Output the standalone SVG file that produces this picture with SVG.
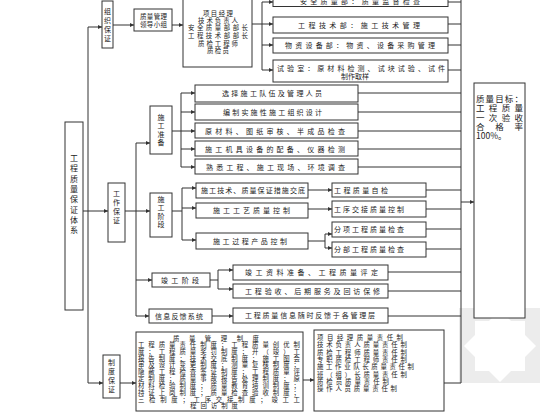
<svg xmlns="http://www.w3.org/2000/svg" width="560" height="420" viewBox="0 0 560 420">
<style>
.b{fill:#fff;stroke:#333;stroke-width:1}
.c{fill:none;stroke:#333;stroke-width:1}
.t{font-family:"Noto Sans CJK SC","Noto Sans",sans-serif;font-size:7px;fill:#222}
.v{text-anchor:middle;font-size:7px}
.m{text-anchor:middle;font-size:6.6px}
.p{font-size:6.4px}
.g{font-size:8.5px}
</style>
<defs>
<marker id="a" viewBox="0 0 6 6" refX="6" refY="3" markerWidth="4" markerHeight="4" orient="auto" markerUnits="userSpaceOnUse"><path d="M0,0L6,3L0,6z" fill="#333"/></marker>
</defs>
<rect width="560" height="420" fill="#fff"/>
<g id="watermark">
<rect x="459" y="308" width="81" height="75" fill="#ececec"/>
<polygon points="500,310 536,346 500,382 464,346" fill="#fff"/>
<rect x="475" y="321" width="50" height="50" fill="#fff"/>
</g>
<g id="connectors">
<path class="c" d="M83,211H88M88,27V383"/>
<path class="c" marker-end="url(#a)" d="M88,27H102"/>
<path class="c" marker-end="url(#a)" d="M88,211H108"/>
<path class="c" marker-end="url(#a)" d="M88,383H103"/>
<path class="c" marker-end="url(#a)" d="M113,25H134"/>
<path class="c" marker-end="url(#a)" d="M172,25H183"/>
<path class="c" d="M252,24H262M262,2V70"/>
<path class="c" marker-end="url(#a)" d="M262,2H273"/>
<path class="c" marker-end="url(#a)" d="M262,24H273"/>
<path class="c" marker-end="url(#a)" d="M262,45H273"/>
<path class="c" marker-end="url(#a)" d="M262,70H273"/>
<path class="c" d="M461,0V383M448,2H461M448,24H461M448,45H461M448,70H461M358,93H461M358,112H461M358,131H461M358,149H461M358,167H461M426,190H461M426,209H461M426,229H461M426,249H461M388,272H461M388,291H461M388,316H461M444,383H461"/>
<path class="c" marker-end="url(#a)" d="M461,202H474"/>
<path class="c" d="M125,211H136M136,143V316"/>
<path class="c" marker-end="url(#a)" d="M136,143H150"/>
<path class="c" marker-end="url(#a)" d="M136,211H150"/>
<path class="c" marker-end="url(#a)" d="M136,280H152"/>
<path class="c" marker-end="url(#a)" d="M136,316H149"/>
<path class="c" d="M172,131H181M181,93V167"/>
<path class="c" marker-end="url(#a)" d="M181,93H195"/>
<path class="c" marker-end="url(#a)" d="M181,112H195"/>
<path class="c" marker-end="url(#a)" d="M181,131H195"/>
<path class="c" marker-end="url(#a)" d="M181,149H195"/>
<path class="c" marker-end="url(#a)" d="M181,167H195"/>
<path class="c" d="M172,211H182M182,188V240"/>
<path class="c" marker-end="url(#a)" d="M182,188H196"/>
<path class="c" marker-end="url(#a)" d="M182,208H196"/>
<path class="c" marker-end="url(#a)" d="M182,240H196"/>
<path class="c" marker-end="url(#a)" d="M308,190H332"/>
<path class="c" marker-end="url(#a)" d="M308,209H332"/>
<path class="c" d="M308,241H325M325,234V248"/>
<path class="c" marker-end="url(#a)" d="M325,234H332"/>
<path class="c" marker-end="url(#a)" d="M325,248H332"/>
<path class="c" d="M210,280H218M218,270V289"/>
<path class="c" marker-end="url(#a)" d="M218,270H233"/>
<path class="c" marker-end="url(#a)" d="M218,289H233"/>
<path class="c" marker-end="url(#a)" d="M212,316H233"/>
<path class="c" marker-end="url(#a)" d="M120,383H136"/>
<path class="c" marker-end="url(#a)" d="M303,380H314"/>
</g>
<g id="n-main"><rect class="b" x="65" y="122" width="18" height="188"/>
<text class="t v" style="font-size:8px" x="74" y="161">工</text><text class="t v" style="font-size:8px" x="74" y="171.3">程</text><text class="t v" style="font-size:8px" x="74" y="181.6">质</text><text class="t v" style="font-size:8px" x="74" y="191.9">量</text><text class="t v" style="font-size:8px" x="74" y="202.2">保</text><text class="t v" style="font-size:8px" x="74" y="212.5">证</text><text class="t v" style="font-size:8px" x="74" y="222.8">体</text><text class="t v" style="font-size:8px" x="74" y="233.1">系</text></g>
<g id="n-org"><rect class="b" x="102" y="1" width="11" height="47"/>
<text class="t v" x="107.5" y="13.6">组</text><text class="t v" x="107.5" y="22.6">织</text><text class="t v" x="107.5" y="31.6">保</text><text class="t v" x="107.5" y="40.6">证</text></g>
<g id="n-group"><rect class="b" x="134" y="9" width="38" height="22"/>
<text class="t" x="140" y="18.5" textLength="27" lengthAdjust="spacing" style="font-size:6.5px">质量管理</text><text class="t" x="140" y="26.5" textLength="27" lengthAdjust="spacing" style="font-size:6.5px">领导小组</text></g>
<g id="n-members"><rect class="b" x="183" y="-2" width="69" height="69"/>
<text class="t" x="203" y="15.5" textLength="30" lengthAdjust="spacing" style="font-size:6.4px">项目经理</text>
<text class="t" x="198" y="22.7" textLength="40" lengthAdjust="spacing" style="font-size:6.4px">技术负责人</text>
<text class="t" x="188" y="29.9" textLength="60" lengthAdjust="spacing" style="font-size:6.4px">安全质量部部长</text>
<text class="t" x="188" y="37.6" textLength="60" lengthAdjust="spacing" style="font-size:6.4px">工程技术部部长</text>
<text class="t" x="198" y="45.6" textLength="40" lengthAdjust="spacing" style="font-size:6.4px">质检工程师</text>
<text class="t" x="207" y="53" textLength="22" lengthAdjust="spacing" style="font-size:6.4px">质检员</text></g>
<g id="n-o1"><rect class="b" x="273" y="-10" width="175" height="16.5"/><text class="t" x="300" y="3.5" textLength="120" lengthAdjust="spacing">安全质量部：质量监督检查</text></g>
<g id="n-o2"><rect class="b" x="273" y="17" width="175" height="16"/><text class="t" x="298" y="27.5" textLength="122" lengthAdjust="spacing">工程技术部：施工技术管理</text></g>
<g id="n-o3"><rect class="b" x="273" y="38" width="175" height="15"/><text class="t" x="285" y="48" textLength="150" lengthAdjust="spacing">物资设备部：物资、设备采购管理</text></g>
<g id="n-o4"><rect class="b" x="273" y="60" width="175" height="22"/><text class="t" x="277" y="70.5" textLength="168" lengthAdjust="spacing">试验室：原材料检测、试块试验、试件</text><text class="t" x="341" y="78.5" textLength="28" lengthAdjust="spacing">制作取样</text></g>
<g id="n-work"><rect class="b" x="108" y="183" width="17" height="59"/>
<text class="t v" x="116.5" y="196">工</text><text class="t v" x="116.5" y="205">作</text><text class="t v" x="116.5" y="214">保</text><text class="t v" x="116.5" y="223">证</text></g>
<g id="n-prep"><rect class="b" x="150" y="106" width="22" height="48"/>
<text class="t v" x="161" y="119.6">施</text><text class="t v" x="161" y="128.1">工</text><text class="t v" x="161" y="136.6">准</text><text class="t v" x="161" y="145.1">备</text></g>
<g id="n-stage"><rect class="b" x="150" y="193" width="22" height="44"/>
<text class="t v" x="161" y="201.6">施</text><text class="t v" x="161" y="210.1">工</text><text class="t v" x="161" y="218.6">阶</text><text class="t v" x="161" y="227.1">段</text></g>
<g id="n-p1"><rect class="b" x="195" y="85" width="163" height="17"/><text class="t" x="222" y="96" textLength="100" lengthAdjust="spacing">选择施工队伍及管理人员</text></g>
<g id="n-p2"><rect class="b" x="195" y="104" width="163" height="16"/><text class="t" x="223" y="114.8" textLength="99" lengthAdjust="spacing">编制实施性施工组织设计</text></g>
<g id="n-p3"><rect class="b" x="195" y="123" width="163" height="15"/><text class="t" x="205" y="133.6" textLength="140" lengthAdjust="spacing">原材料、图纸审核、半成品检查</text></g>
<g id="n-p4"><rect class="b" x="195" y="141" width="163" height="15"/><text class="t" x="205" y="151.6" textLength="140" lengthAdjust="spacing">施工机具设备的配备、仪器检测</text></g>
<g id="n-p5"><rect class="b" x="195" y="159" width="163" height="15"/><text class="t" x="206" y="169.6" textLength="139" lengthAdjust="spacing">熟悉工程、施工现场、环境调查</text></g>
<g id="n-s1"><rect class="b" x="196" y="183" width="112" height="15"/><text class="t" x="201" y="193" textLength="104" lengthAdjust="spacing">施工技术、质量保证措施交底</text></g>
<g id="n-s2"><rect class="b" x="196" y="203" width="112" height="15"/><text class="t" x="213" y="213.3" textLength="77" lengthAdjust="spacing">施工工艺质量控制</text></g>
<g id="n-s3"><rect class="b" x="196" y="233" width="112" height="16"/><text class="t" x="213" y="244" textLength="74" lengthAdjust="spacing">施工过程产品控制</text></g>
<g id="n-q1"><rect class="b" x="332" y="183" width="94" height="14"/><text class="t" x="334" y="192.6" textLength="54" lengthAdjust="spacing">工程质量自检</text></g>
<g id="n-q2"><rect class="b" x="332" y="201" width="94" height="16"/><text class="t" x="334" y="211.8" textLength="70" lengthAdjust="spacing">工序交接质量控制</text></g>
<g id="n-q3"><rect class="b" x="332" y="222" width="94" height="15"/><text class="t" x="334" y="232.2" textLength="70" lengthAdjust="spacing">分项工程质量检查</text></g>
<g id="n-q4"><rect class="b" x="332" y="242" width="94" height="15"/><text class="t" x="334" y="252.2" textLength="70" lengthAdjust="spacing">分部工程质量检查</text></g>
<g id="n-fin"><rect class="b" x="152" y="273" width="58" height="14"/><text class="t" x="161" y="282.5" textLength="38" lengthAdjust="spacing">竣工阶段</text></g>
<g id="n-info"><rect class="b" x="149" y="309" width="63" height="14"/><text class="t" x="155" y="318.5" textLength="48" lengthAdjust="spacing">信息反馈系统</text></g>
<g id="n-f1"><rect class="b" x="233" y="265" width="155" height="15"/><text class="t" x="245" y="275" textLength="133" lengthAdjust="spacing">竣工资料准备、工程质量评定</text></g>
<g id="n-f2"><rect class="b" x="233" y="284" width="155" height="14"/><text class="t" x="245" y="293.5" textLength="135" lengthAdjust="spacing">工程验收、后期服务及回访保修</text></g>
<g id="n-i1"><rect class="b" x="233" y="308" width="155" height="15"/><text class="t" x="245" y="318.3" textLength="130" lengthAdjust="spacing">工程质量信息随时反馈于各管理层</text></g>
<g id="n-sys"><rect class="b" x="103" y="355" width="17" height="43"/>
<text class="t v" x="111.5" y="364.6">制</text><text class="t v" x="111.5" y="373.6">度</text><text class="t v" x="111.5" y="382.6">保</text><text class="t v" x="111.5" y="391.6">证</text></g>
<g id="n-rules"><rect class="b" x="136" y="332" width="167" height="79"/>
<text class="t p" x="173" y="340.5" textLength="86" lengthAdjust="spacing">质量管理制度</text>
<text class="t p" x="138" y="347.3" textLength="162" lengthAdjust="spacing">工程质量责任制度；工程质量创优制</text>
<text class="t p" x="138" y="354" textLength="162" lengthAdjust="spacing">度；工程质量奖罚制度；开（竣）工</text>
<text class="t p" x="138" y="360.7" textLength="162" lengthAdjust="spacing">报告制度；技术交底制度；施工图会</text>
<text class="t p" x="138" y="367.4" textLength="162" lengthAdjust="spacing">审及设计变更制度；测量复核制度；</text>
<text class="t p" x="138" y="374.1" textLength="162" lengthAdjust="spacing">隐蔽工程检查签证制度；工程质量评</text>
<text class="t p" x="138" y="380.8" textLength="162" lengthAdjust="spacing">定制度；质量事故报告处理制度；原</text>
<text class="t p" x="138" y="388.3" textLength="162" lengthAdjust="spacing">材料检验制度；质量教育培训制度；</text>
<text class="t p" x="138" y="395" textLength="162" lengthAdjust="spacing">持证上岗制度；质量检查验收制度；</text>
<text class="t p" x="138" y="401.7" textLength="162" lengthAdjust="spacing">三检制度；工序交接制度；竣工工</text>
<text class="t p" x="190" y="408.4" textLength="48" lengthAdjust="spacing">程回访制度</text></g>
<g id="n-resp"><rect class="b" x="314" y="330" width="130" height="81"/>
<text class="t p" x="317" y="339.6" textLength="86" lengthAdjust="spacing">项目经理质量责任制</text>
<text class="t p" x="317" y="347" textLength="90" lengthAdjust="spacing">技术负责人质量责任制</text>
<text class="t p" x="317" y="355" textLength="90" lengthAdjust="spacing">质检工程师质量责任制</text>
<text class="t p" x="317" y="362.2" textLength="90" lengthAdjust="spacing">专职质检工程师责任制</text>
<text class="t p" x="317" y="369.4" textLength="97" lengthAdjust="spacing">施工作业队长质量责任制</text>
<text class="t p" x="317" y="376.6" textLength="90" lengthAdjust="spacing">班（组）长质量责任制</text>
<text class="t p" x="317" y="384.2" textLength="72" lengthAdjust="spacing">质检员质量责任制</text>
<text class="t p" x="317" y="391.4" textLength="80" lengthAdjust="spacing">操作人员质量责任制</text></g>
<g id="n-goal"><rect class="b" x="474" y="83" width="51" height="235"/>
<text class="t g" x="476" y="101.5" textLength="47" lengthAdjust="spacing">质量目标：</text>
<text class="t g" x="476" y="111.3" textLength="47" lengthAdjust="spacing">工程质量</text>
<text class="t g" x="476" y="120.8" textLength="47" lengthAdjust="spacing">一次验收</text>
<text class="t g" x="476" y="129.8" textLength="47" lengthAdjust="spacing">合格率</text>
<text class="t g" x="476" y="138.5">100%。</text></g>
</svg>
